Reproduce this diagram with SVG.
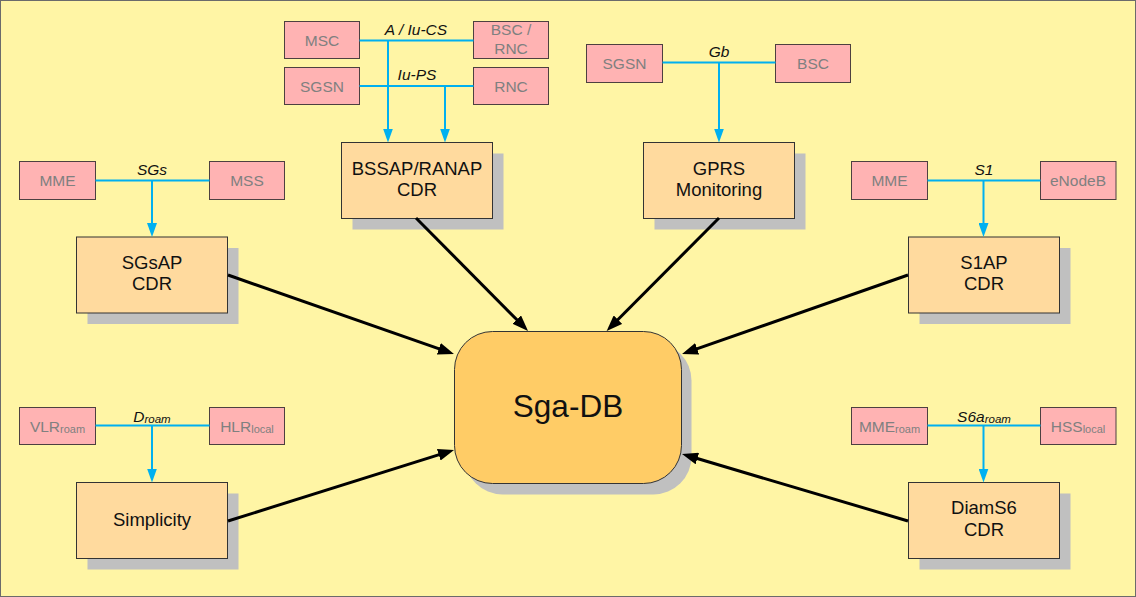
<svg xmlns="http://www.w3.org/2000/svg" width="1136" height="597" viewBox="0 0 1136 597">
<defs>
<marker id="ab" markerUnits="userSpaceOnUse" markerWidth="16" markerHeight="12" refX="8" refY="6" orient="auto"><path d="M0,0 L16,6 L0,12 z" fill="#000"/></marker>
<marker id="ablue" markerUnits="userSpaceOnUse" markerWidth="14" markerHeight="10" refX="7" refY="5" orient="auto"><path d="M0,0 L14,5 L0,10 z" fill="#00B0F0"/></marker>
<style>
.pk{fill:#FFB3B3;stroke:#4d4040;stroke-width:1}
.pt{font-family:"Liberation Sans",Arial,sans-serif;font-size:15.5px;fill:#808080;text-anchor:middle}
.cd{fill:#FFDA9E;stroke:#333;stroke-width:1}
.sh{fill:#C0C0C0}
.ct{font-family:"Liberation Sans",Arial,sans-serif;font-size:18.5px;fill:#111;text-anchor:middle}
.it{font-family:"Liberation Sans",Arial,sans-serif;font-size:15.5px;font-style:italic;fill:#111;text-anchor:middle}
.bl{stroke:#00B0F0;stroke-width:2;fill:none}
.bk{stroke:#000;stroke-width:3;fill:none}
</style>
</defs>
<rect x="0.5" y="0.5" width="1135" height="596" fill="#FFF5A5" stroke="#6b6b6b"/>

<g id="labels">
<text class="it" x="416" y="35">A / Iu-CS</text>
<text class="it" x="417" y="80">Iu-PS</text>
<text class="it" x="719" y="57">Gb</text>
<text class="it" x="152" y="175">SGs</text>
<text class="it" x="984" y="175">S1</text>
<text class="it" x="152" y="421.5">D<tspan font-size="11.5px" dy="1">roam</tspan></text>
<text class="it" x="984" y="421.5">S6a<tspan font-size="11.5px" dy="1">roam</tspan></text>
</g>

<g id="msc"><rect class="pk" x="284.5" y="21.5" width="75" height="37"/><text class="pt" x="322" y="45.5">MSC</text></g>
<g id="bscrnc"><rect class="pk" x="473.5" y="21.5" width="75" height="37"/><text class="pt" x="511" y="35">BSC /</text><text class="pt" x="511" y="54">RNC</text></g>
<g id="sgsn1"><rect class="pk" x="284.5" y="67.5" width="75" height="37"/><text class="pt" x="322" y="91.5">SGSN</text></g>
<g id="rnc"><rect class="pk" x="473.5" y="67.5" width="75" height="37"/><text class="pt" x="511" y="91.5">RNC</text></g>
<g id="sgsn2"><rect class="pk" x="586.5" y="44.5" width="76" height="38"/><text class="pt" x="624.5" y="69">SGSN</text></g>
<g id="bsc"><rect class="pk" x="775.5" y="44.5" width="75" height="38"/><text class="pt" x="813" y="69">BSC</text></g>
<g id="mme1"><rect class="pk" x="19.5" y="161.5" width="76" height="38"/><text class="pt" x="57.5" y="186">MME</text></g>
<g id="mss"><rect class="pk" x="209.5" y="161.5" width="75" height="38"/><text class="pt" x="247" y="186">MSS</text></g>
<g id="mme2"><rect class="pk" x="851.5" y="161.5" width="76" height="38"/><text class="pt" x="889.5" y="186">MME</text></g>
<g id="enodeb"><rect class="pk" x="1040.5" y="161.5" width="75.5" height="38"/><text class="pt" x="1078" y="186">eNodeB</text></g>
<g id="vlr"><rect class="pk" x="19.5" y="407.5" width="76" height="37"/><text class="pt" x="57.5" y="431.5">VLR<tspan font-size="11px" dy="1">roam</tspan></text></g>
<g id="hlr"><rect class="pk" x="209.5" y="407.5" width="75" height="37"/><text class="pt" x="247" y="431.5">HLR<tspan font-size="11px" dy="1">local</tspan></text></g>
<g id="mmeroam"><rect class="pk" x="851.5" y="407.5" width="76" height="37"/><text class="pt" x="889.5" y="431.5">MME<tspan font-size="11px" dy="1">roam</tspan></text></g>
<g id="hss"><rect class="pk" x="1040.5" y="407.5" width="75.5" height="37"/><text class="pt" x="1078" y="431.5">HSS<tspan font-size="11px" dy="1">local</tspan></text></g>

<g id="bssap"><rect class="sh" x="352.5" y="153.5" width="151" height="76"/><rect class="cd" x="341.5" y="142.5" width="151" height="76"/><text class="ct" x="417" y="175">BSSAP/RANAP</text><text class="ct" x="417" y="196">CDR</text></g>
<g id="gprs"><rect class="sh" x="654.5" y="153.5" width="151" height="76"/><rect class="cd" x="643.5" y="142.5" width="151" height="76"/><text class="ct" x="719" y="175">GPRS</text><text class="ct" x="719" y="196">Monitoring</text></g>
<g id="sgsap"><rect class="sh" x="87.5" y="248" width="151" height="76"/><rect class="cd" x="76.5" y="237" width="151" height="76"/><text class="ct" x="152" y="269">SGsAP</text><text class="ct" x="152" y="290">CDR</text></g>
<g id="s1ap"><rect class="sh" x="919.5" y="248" width="151" height="76"/><rect class="cd" x="908.5" y="237" width="151" height="76"/><text class="ct" x="984" y="269">S1AP</text><text class="ct" x="984" y="290">CDR</text></g>
<g id="simplicity"><rect class="sh" x="87.5" y="493.5" width="151" height="76"/><rect class="cd" x="76.5" y="482.5" width="151" height="76"/><text class="ct" x="152" y="526">Simplicity</text></g>
<g id="diams6"><rect class="sh" x="919.5" y="493.5" width="151" height="76"/><rect class="cd" x="908.5" y="482.5" width="151" height="76"/><text class="ct" x="984" y="514">DiamS6</text><text class="ct" x="984" y="536">CDR</text></g>

<g id="sgadb"><rect x="464.5" y="342.5" width="227" height="152" rx="38" ry="38" fill="#C0C0C0"/><rect x="454.5" y="331.5" width="227" height="152" rx="38" ry="38" fill="#FFCC66" stroke="#333" stroke-width="1"/><text x="568" y="417" font-family="Liberation Sans, Arial, sans-serif" font-size="31.5px" fill="#111" text-anchor="middle">Sga-DB</text></g>

<g id="connectors">
<path class="bl" d="M359.5,40.5 H473.5"/>
<line class="bl" x1="388" y1="40.5" x2="388" y2="135.5" marker-end="url(#ablue)"/>
<path class="bl" d="M359.5,86 H473.5"/>
<line class="bl" x1="445" y1="86" x2="445" y2="135.5" marker-end="url(#ablue)"/>
<path class="bl" d="M662.5,62.5 H775.5"/>
<line class="bl" x1="719" y1="62.5" x2="719" y2="135.5" marker-end="url(#ablue)"/>
<path class="bl" d="M95.5,180.5 H209.5"/>
<line class="bl" x1="152" y1="180.5" x2="152" y2="230" marker-end="url(#ablue)"/>
<path class="bl" d="M927.5,180.5 H1040.5"/>
<line class="bl" x1="983.5" y1="180.5" x2="983.5" y2="230" marker-end="url(#ablue)"/>
<path class="bl" d="M95.5,425.5 H209.5"/>
<line class="bl" x1="152" y1="425.5" x2="152" y2="475.5" marker-end="url(#ablue)"/>
<path class="bl" d="M927.5,425.5 H1040.5"/>
<line class="bl" x1="983.5" y1="425.5" x2="983.5" y2="475.5" marker-end="url(#ablue)"/>

<line class="bk" x1="416" y1="218" x2="522.4" y2="325.3" marker-end="url(#ab)"/>
<line class="bk" x1="719" y1="218" x2="612.3" y2="325.3" marker-end="url(#ab)"/>
<line class="bk" x1="228" y1="275" x2="446.4" y2="351.4" marker-end="url(#ab)"/>
<line class="bk" x1="908" y1="275" x2="689.6" y2="351.4" marker-end="url(#ab)"/>
<line class="bk" x1="228" y1="521" x2="446.4" y2="452.4" marker-end="url(#ab)"/>
<line class="bk" x1="908" y1="521" x2="689.7" y2="456.3" marker-end="url(#ab)"/>
</g>
</svg>
